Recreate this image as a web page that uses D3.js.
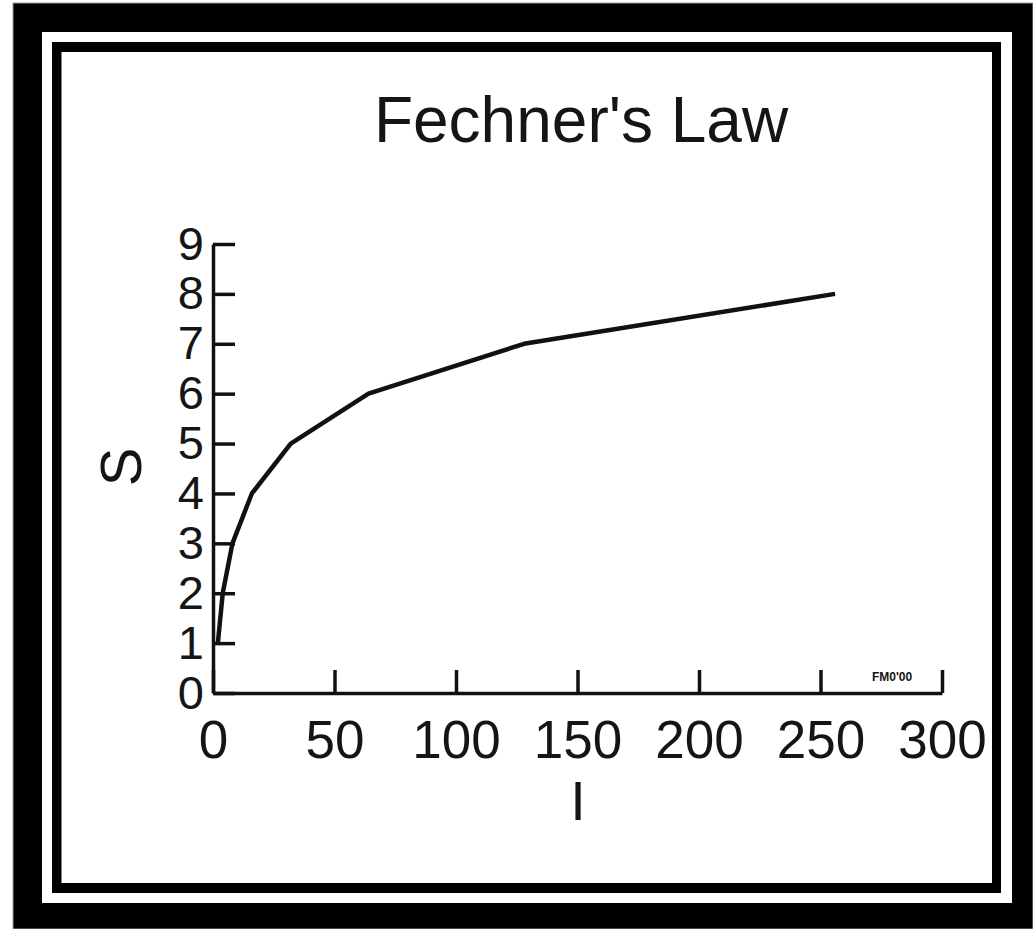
<!DOCTYPE html>
<html lang="en">
    <head>
        <meta charset="utf-8">
        <title>Fechner's Law</title>
        <script src="https://d3js.org/d3.v7.min.js"></script>
        <style type="text/css">
            body { margin: 0; background: white; }
            text { font-family: "Liberation Sans", Arial, sans-serif; fill: #151515; }
        </style>
    </head>
    <body>
        <script type="text/javascript">

        // Data
        const intensity = [2, 4, 8, 16, 32, 64, 128, 256];
        const sensation = [1, 2, 3, 4, 5, 6, 7, 8];
        const xTicks = [0, 50, 100, 150, 200, 250, 300];
        const yTicks = [0, 1, 2, 3, 4, 5, 6, 7, 8, 9];

        const points = intensity.map((d, i) => ({I: d, S: sensation[i]}));

        // Constants
        const w = 1033;
        const h = 929;

        const svg = d3.select("body")
                      .append("svg")
                      .attr("width", w)
                      .attr("height", h);

        // Frame
        svg.append("rect").attr("x", 13).attr("y", 3).attr("width", w - 13).attr("height", h - 3)
           .attr("fill", "black").attr("stroke", "#999").attr("stroke-width", 1);
        svg.append("rect").attr("x", 42).attr("y", 32).attr("width", 970).attr("height", 871)
           .attr("fill", "white");
        svg.append("rect").attr("x", 52).attr("y", 42).attr("width", 949).attr("height", 851)
           .attr("fill", "black");
        svg.append("rect").attr("x", 61.5).attr("y", 52).attr("width", 930.5).attr("height", 831)
           .attr("fill", "white");

        // Scales
        const xScale = d3.scaleLinear()
                         .domain([0, 300])
                         .range([213, 942]);

        const yScale = d3.scaleLinear()
                         .domain([0, 9])
                         .range([693, 244]);

        // Bottom axis
        const bottomAxis = d3.axisBottom(xScale)
                             .tickValues(xTicks)
                             .tickSizeInner(-23)
                             .tickSizeOuter(0)
                             .tickPadding(27);

        const gx = svg.append("g")
                      .attr("transform", "translate(0," + yScale(0) + ")")
                      .call(bottomAxis);

        gx.selectAll("text")
          .attr("font-size", "53px")
          .attr("font-family", "Liberation Sans, Arial, sans-serif")
          .attr("fill", "#151515");

        // Left axis
        const leftAxis = d3.axisLeft(yScale)
                           .tickValues(yTicks)
                           .tickSizeInner(-22)
                           .tickSizeOuter(0)
                           .tickPadding(9);

        const gy = svg.append("g")
                      .attr("transform", "translate(" + xScale(0) + ",0)")
                      .call(leftAxis);

        gy.selectAll("text")
          .attr("font-size", "47px")
          .attr("font-family", "Liberation Sans, Arial, sans-serif")
          .attr("fill", "#151515");

        svg.selectAll(".domain, .tick line")
           .attr("stroke", "#111")
           .attr("stroke-width", 3.5);

        // Curve
        const line = d3.line()
                       .x(d => xScale(d.I))
                       .y(d => yScale(d.S));

        svg.append("path")
           .datum(points)
           .attr("d", line)
           .attr("fill", "none")
           .attr("stroke", "#111")
           .attr("stroke-width", 4.5)
           .attr("stroke-linejoin", "round");

        // Title
        svg.append("text")
           .attr("x", 581)
           .attr("y", 142)
           .attr("text-anchor", "middle")
           .attr("font-size", "64px")
           .attr("fill", "#222")
           .text("Fechner's Law");

        // Axis labels
        svg.append("text")
           .attr("x", 578)
           .attr("y", 820)
           .attr("text-anchor", "middle")
           .attr("font-size", "56px")
           .text("I");

        svg.append("text")
           .attr("transform", "translate(141,467) rotate(-90)")
           .attr("text-anchor", "middle")
           .attr("font-size", "58px")
           .text("S");

        // small note at end of x axis
        svg.append("text")
           .attr("x", 892)
           .attr("y", 681)
           .attr("text-anchor", "middle")
           .attr("font-size", "12px")
           .attr("font-weight", "bold")
           .attr("fill", "#555")
           .text("FM0'00");
        </script>
    </body>
</html>
